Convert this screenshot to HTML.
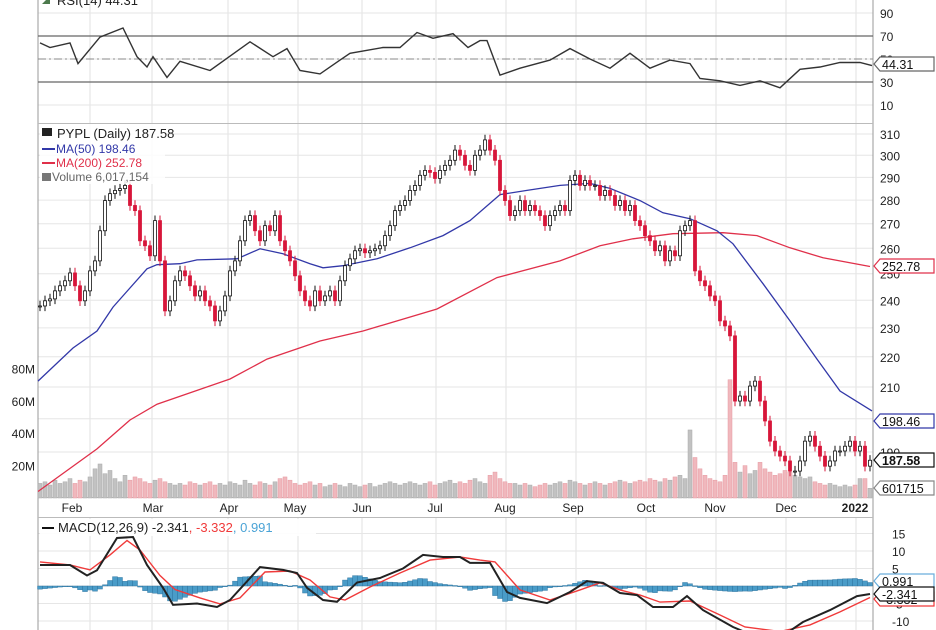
<!DOCTYPE html>
<html><head><meta charset="utf-8"><style>
body{margin:0;background:#fff;}
svg{display:block;font-family:"Liberation Sans",sans-serif;}
</style></head><body>
<svg id="c" width="936" height="630"></svg>
<script>
const closes=[237.9,239.8,240.5,243.5,245.4,247.3,250.3,245.4,239.8,243.5,251.1,255.0,267.1,279.8,282.8,284.2,285.0,286.4,277.7,275.5,263.0,261.0,257.0,271.3,255.0,236.1,239.8,247.3,251.1,249.2,245.4,241.6,243.5,239.8,237.9,232.5,236.1,241.6,251.1,255.0,263.0,271.3,273.4,267.1,263.0,269.2,267.1,273.4,263.0,259.0,255.0,249.2,243.5,239.8,237.9,243.5,239.8,241.6,243.5,239.8,247.3,253.1,255.8,259.0,259.8,258.2,259.0,259.8,261.0,265.1,269.2,275.5,277.7,279.8,284.2,286.4,290.9,293.1,292.2,289.5,293.1,295.4,297.7,302.4,300.0,295.4,293.1,300.0,302.4,307.2,302.4,297.7,284.2,279.8,273.4,275.5,279.8,275.5,277.7,275.5,273.4,269.2,273.4,275.5,277.7,275.5,288.6,290.9,286.4,288.6,286.4,286.4,282.0,284.2,282.0,277.7,279.8,275.5,277.7,271.3,269.2,265.1,263.0,259.0,261.0,255.0,259.0,257.0,267.1,269.2,271.3,251.1,247.3,245.4,241.6,239.8,232.5,230.7,227.2,205.5,207.1,205.5,210.3,211.9,205.5,199.3,193.2,190.3,188.8,187.4,184.5,184.5,187.4,193.2,194.7,191.7,188.8,185.9,187.4,190.3,190.3,191.7,193.2,190.3,191.7,185.9,187.6];
const volumes=[9,10,8,11,9,10,12,9,11,10,13,18,21,15,17,12,10,14,11,13,12,10,9,11,12,10,9,8,9,8,10,9,8,9,10,8,9,8,10,9,8,11,9,8,10,9,8,10,12,13,11,9,8,9,10,8,9,7,8,9,8,7,9,8,7,8,9,7,8,9,10,9,8,9,10,9,8,9,10,8,9,10,11,9,10,9,11,12,10,9,14,16,12,10,9,9,8,9,8,7,8,9,8,9,10,9,11,10,9,8,9,10,9,8,9,10,11,10,9,10,11,10,12,11,10,12,11,13,14,12,42,25,18,14,12,11,10,14,73,22,16,20,15,17,22,18,16,14,15,17,16,14,13,12,13,10,9,8,9,8,7,8,7,8,12,12,6];
const ma50Day=[-0.4,6.6,11.4,14.6,21.4,23.4,28,31.4,39.4,44,48.6,54,56.6,60.6,67.4,74,80.6,86,92,97.4,104,110,114,120,124.6,130,135.4,138.6,144.6,150,155.4,160,166.4];
const ma50Val=[211.9,223.0,228.9,237.5,251.9,253.5,253.9,255.4,255.8,259.8,257.8,253.9,252.3,253.1,255.8,260.2,265.1,271.3,282.4,284.2,286.4,287.3,285.1,279.8,274.6,272.1,267.1,261.8,246.2,232.5,219.2,208.7,202.4,198.5];
const ma200Day=[-0.4,11.4,18,23.4,38,45.4,56,64.6,79.4,91.4,104,112,118.6,126.6,136.6,143.4,150,156.6,166];
const ma200Val=[178.8,190.9,199.6,204.5,212.6,219.2,225.4,228.9,236.8,248.5,255.0,261.0,263.8,265.9,266.3,265.1,260.2,256.2,252.8];
const rsiDay=[0,2,6,7.6,12,16.6,19.4,21.4,22.6,25.4,28,34,42,46.6,49.4,52,56,60,62,68.6,72,75.4,78.6,82.6,85.6,88,89.4,92,96,102,106,110,114,118,122,126,130,132,136,140,144,148,152,156,160,164,166.4];
const rsiVal=[64,60,64,46,69,77,52,43,52,34,48,40,65,52,59,40,37,49,55,60,60,73,68,72,60,66,66,36,42,49,59,50,42,55,42,49,46,33,31,27,31,25,41,43,47,47,44.3];
const macdDay=[0,6,9.4,11.4,15.4,18.6,21.4,24.6,26.6,31.4,35.4,38,44,48.6,51.4,53.4,56.6,59.4,63.4,68,72.6,76.6,80.6,84,86,90,93.4,96,101.4,106,109.4,112.6,116,119.4,122.6,126.6,129.4,132.6,138.6,141.4,149.4,152.6,158,163.4,166];
const macdVal=[6,6,3,4.5,13.7,14,6,-0.5,-5.4,-5,-6,-4,5.4,4.6,3.7,-0.5,-4,-4.5,1,2.3,5,8.9,8.3,8.3,6.6,6.6,-1.7,-3.4,-4.9,-1.7,1.4,0.9,-2,-2.6,-6,-6,-2.9,-6.9,-11.7,-13.4,-13.4,-10.3,-6.9,-2.9,-2.3];
const sigDay=[0,6,10,14,17.4,20,24,27,32,36,40,45,50,54,58,61,66,72,78,84,88,91,96,102,108,112,116,120,124,130,136,141,148,154,160,166];
const sigVal=[6.9,6,4.6,8.9,13,10.3,3,-1,-3.4,-5.1,-3.4,4,4.3,1.7,-3.1,-4,-0.3,3.7,7.4,8.3,7.4,6.9,-1.1,-4,-1.1,0.9,-1.1,-2.6,-4.6,-4.3,-8.3,-11.7,-13,-11.1,-7.4,-3.3];
const priceTicks=[310,300,290,280,270,260,250,240,230,220,210,200,190];
const rsiTicks=[90,70,50,30,10];
const volTicks=[20,40,60,80];
const macdTicks=[15,10,5,0,-5,-10];
const monthLabels=["Feb","Mar","Apr","May","Jun","Jul","Aug","Sep","Oct","Nov","Dec","2022"];
const monthDay=[6.4,22.6,37.8,51,64.4,79,93,106.6,121.2,135,149.2,163];

const S=document.getElementById('c');const NS='http://www.w3.org/2000/svg';
function mk(t,a,p){const e=document.createElementNS(NS,t);for(const k in a)e.setAttribute(k,a[k]);(p||S).appendChild(e);return e;}
const L=38,R=873;
const X=d=>40+d*5;
const yP=p=>134+649.6*Math.log(310/p);
const yR=v=>36+(70-v)*1.15;
const yV=m=>498-m*1.62;
const yM=v=>586-v*3.5;
function interp(ds,vs,d){if(d<=ds[0])return vs[0];for(let i=1;i<ds.length;i++){if(d<=ds[i]){const t=(d-ds[i-1])/(ds[i]-ds[i-1]);return vs[i-1]+t*(vs[i]-vs[i-1]);}}return vs[vs.length-1];}
function poly(ds,vs,fy){return ds.map((d,i)=>X(d).toFixed(1)+','+fy(vs[i]).toFixed(1)).join(' ');}

const grid=mk('g',{});

const vg=[90,152,228,298,362,436,506,576,646,716,786,856];
vg.forEach(x=>{[[0,123],[124,497],[517,630]].forEach(([a,b])=>mk('line',{x1:x,x2:x,y1:a,y2:b,stroke:'#e2e2e2'},grid));});
priceTicks.forEach(p=>mk('line',{x1:L,x2:R,y1:yP(p),y2:yP(p),stroke:'#e6e6e6'},grid));
rsiTicks.forEach(v=>mk('line',{x1:L,x2:R,y1:yR(v),y2:yR(v),stroke:'#e6e6e6'},grid));
macdTicks.forEach(v=>mk('line',{x1:L,x2:R,y1:yM(v),y2:yM(v),stroke:'#e6e6e6'},grid));
mk('line',{x1:L,x2:L,y1:0,y2:630,stroke:'#999'});
mk('line',{x1:R,x2:R,y1:0,y2:630,stroke:'#999'});
mk('line',{x1:L,x2:R,y1:123.5,y2:123.5,stroke:'#bbb'});
mk('line',{x1:L,x2:R,y1:497.5,y2:497.5,stroke:'#bbb'});
mk('line',{x1:L,x2:R,y1:517.5,y2:517.5,stroke:'#bbb'});

const rsi=mk('g',{});
mk('line',{x1:L,x2:R,y1:yR(70),y2:yR(70),stroke:'#666','stroke-width':1.3},rsi);
mk('line',{x1:L,x2:R,y1:yR(30),y2:yR(30),stroke:'#666','stroke-width':1.3},rsi);
mk('line',{x1:L,x2:R,y1:yR(50),y2:yR(50),stroke:'#888','stroke-dasharray':'8,3,2,3'},rsi);
const rl=mk('polyline',{points:poly(rsiDay,rsiVal,yR),fill:'none',stroke:'#333','stroke-width':1.4},rsi);

rsiTicks.forEach(v=>{const t=mk('text',{x:880,y:yR(v)+5,'font-size':12,fill:'#222'},rsi);t.textContent=v;});

const vol=mk('g',{});
volumes.forEach((m,i)=>{const up=i==0||closes[i]>=closes[i-1];const b=mk('rect',{x:X(i)-2,y:yV(m),width:4,height:498-yV(m),fill:up?'#c2c2c2':'#f0b8bd',stroke:up?'#aaa':'#e69aa2','stroke-width':0.5},vol);
});
volTicks.forEach(m=>{const t=mk('text',{x:35,y:yV(m)+5,'font-size':12,fill:'#222','text-anchor':'end'});t.textContent=m+'M';});

const m200=mk('polyline',{points:poly(ma200Day,ma200Val,yP),fill:'none',stroke:'#e0304a','stroke-width':1.3});

const m50=mk('polyline',{points:poly(ma50Day,ma50Val,yP),fill:'none',stroke:'#3238a8','stroke-width':1.3});


const cg=mk('g',{});
closes.forEach((c,i)=>{const o=i?closes[i-1]:c;const down=c<o;const col=down?'#d7163a':'#111';
const hi=Math.max(o,c)*1.008,lo=Math.min(o,c)*0.992;
mk('line',{x1:X(i),x2:X(i),y1:yP(hi),y2:yP(lo),stroke:col,'stroke-width':1},cg);
const y1=yP(Math.max(o,c)),y2=yP(Math.min(o,c));
const b=mk('rect',{x:X(i)-1.5,y:y1,width:3,height:Math.max(1,y2-y1),fill:down?col:'#fff',stroke:col,'stroke-width':0.8},cg);
});

priceTicks.forEach(p=>{const t=mk('text',{x:880,y:yP(p)+5,'font-size':12,fill:'#222'});t.textContent=p;});

monthLabels.forEach((m,i)=>{const t=mk('text',{x:X(monthDay[i]),y:512,'font-size':12,fill:'#222','text-anchor':'middle','font-weight':m=='2022'?'bold':'normal'});t.textContent=m;
});

const mg=mk('g',{});
for(let i=0;i<closes.length;i++){const h=interp(macdDay,macdVal,i)-interp(sigDay,sigVal,i);const y0=yM(0),y1=yM(h);
const b=mk('rect',{x:X(i)-2.5,y:Math.min(y0,y1),width:5,height:Math.max(0.8,Math.abs(y1-y0)),fill:'#4a9cc8',stroke:'#2c6f99','stroke-width':0.4},mg);
}
const sl=mk('polyline',{points:poly(sigDay,sigVal,yM),fill:'none',stroke:'#f03a3a','stroke-width':1.4},mg);

const ml=mk('polyline',{points:poly(macdDay,macdVal,yM),fill:'none',stroke:'#222','stroke-width':2},mg);

macdTicks.filter(v=>v!=0).forEach(v=>{const t=mk('text',{x:892,y:yM(v)+5,'font-size':12,fill:'#222'});t.textContent=v;});

function tag(y,txt,stroke,fill,bold,name){const g=mk('g',{});
mk('path',{d:`M${R+1},${y} L${R+7},${y-7} H934 V${y+7} H${R+7} Z`,fill:fill,stroke:stroke,'stroke-width':1.2},g);
const t=mk('text',{x:R+9,y:y+5,'font-size':12.5,fill:'#111','font-weight':bold?'bold':'normal'},g);t.textContent=txt;}
tag(64,'44.31','#666','#fff',false,'rsi-value-tag');
tag(266,'252.78','#e0304a','#fff',false,'ma200-value-tag');
tag(421,'198.46','#3238a8','#fff',false,'ma50-value-tag');
tag(488,'601715','#888','#fff',false,'volume-value-tag');
tag(460,'187.58','#111','#fff',true,'price-value-tag');
tag(599,'-3.332','#f03a3a','#fff',false,'signal-value-tag');
tag(581,'0.991','#6aaedc','#fff',false,'histogram-value-tag');
tag(594,'-2.341','#111','#fff',false,'macd-value-tag');

function txt(x,y,s,fs,col,name,w){const t=mk('text',{x:x,y:y,'font-size':fs,fill:col,'font-weight':w||'normal'});t.textContent=s;return t;}
mk('rect',{x:40,y:124,width:125,height:60,fill:'#fff','fill-opacity':0.85});
mk('path',{d:'M42,4 l4,-4 l4,0 l0,4 z',fill:'#4d7a4d'});
txt(57,5,'RSI(14) 44.31',13,'#222','rsi-legend');
mk('rect',{x:42,y:128,width:10,height:8,fill:'#222'});
txt(57,138,'PYPL (Daily) 187.58',13,'#222','price-legend');
mk('line',{x1:42,x2:55,y1:149,y2:149,stroke:'#3238a8','stroke-width':2});
txt(56,153,'MA(50) 198.46',12,'#3238a8','ma50-legend');
mk('line',{x1:42,x2:55,y1:163,y2:163,stroke:'#e0304a','stroke-width':2});
txt(56,167,'MA(200) 252.78',12,'#e0304a','ma200-legend');
mk('rect',{x:42,y:173,width:9,height:8,fill:'#777'});
txt(52,181,'Volume 6,017,154',12,'#666','volume-legend');
mk('rect',{x:40,y:519,width:276,height:17,fill:'#fff','fill-opacity':0.9});
mk('line',{x1:42,x2:54,y1:528,y2:528,stroke:'#111','stroke-width':2});
const mt=mk('text',{x:58,y:532,'font-size':13});
[['MACD(12,26,9) -2.341','#222'],[', -3.332','#f03a3a'],[', 0.991','#4aa3d6']].forEach(([s,c])=>{const ts=mk('tspan',{fill:c},mt);ts.textContent=s;});
</script>
</body></html>
